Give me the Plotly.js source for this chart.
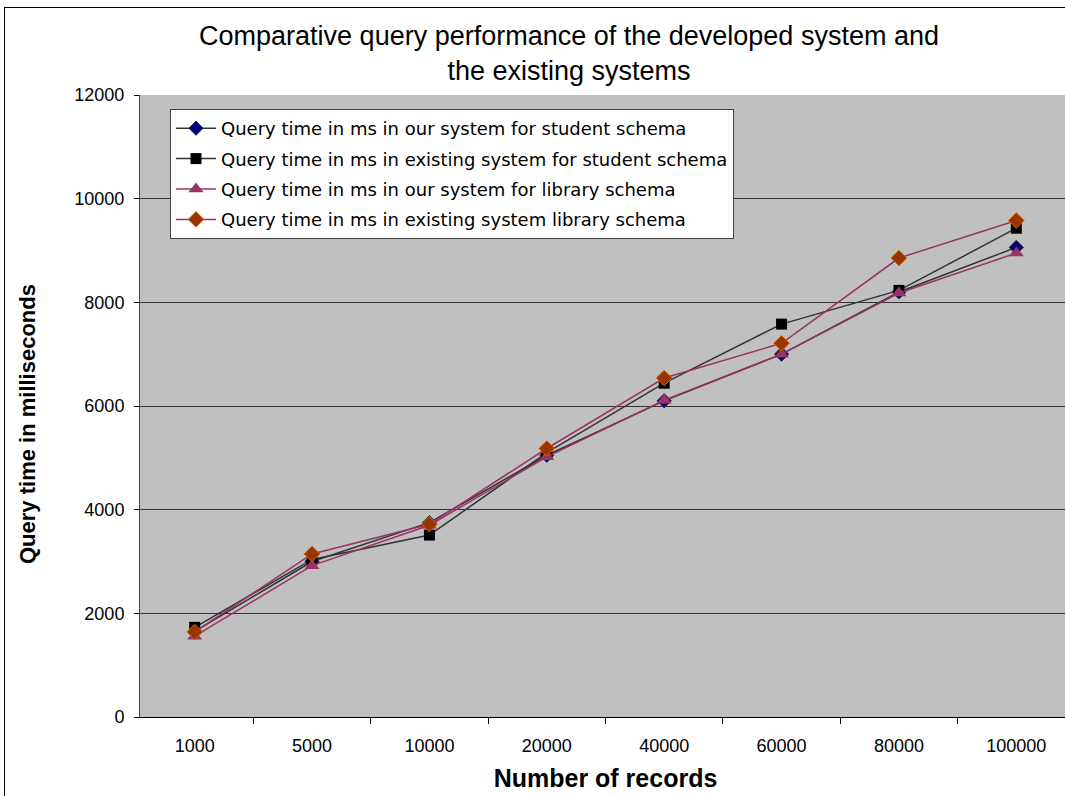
<!DOCTYPE html>
<html>
<head>
<meta charset="utf-8">
<script src="https://cdn.plot.ly/plotly-3.0.1.min.js"></script>
<style>
html,body{margin:0;padding:0;overflow:hidden;background:#fff;width:1065px;height:796px;}
#chart{position:absolute;left:0;top:0;width:1080px;height:796px;}
#frame{position:absolute;left:4px;top:7px;width:1100px;height:820px;border-left:1px solid #000;border-top:1px solid #000;pointer-events:none;}
</style>
</head>
<body>
<div id="chart"></div>
<div id="frame"></div>
<script>
const categories = ["1000","5000","10000","20000","40000","60000","80000","100000"];
const ourStudent = [1650, 3000, 3750, 5050, 6100, 7000, 8200, 9060];
const existingStudent = [1730, 3040, 3510, 5100, 6440, 7580, 8230, 9430];
const ourLibrary = [1560, 2920, 3700, 5020, 6110, 7000, 8180, 8950];
const existingLibrary = [1640, 3145, 3720, 5180, 6540, 7210, 8855, 9580];
const seriesNames = [
  "Query time in ms in our system for student schema",
  "Query time in ms in existing system for student schema",
  "Query time in ms in our system for library schema",
  "Query time in ms in existing system library schema"
];

const traces = [
  {x: categories, y: ourStudent, name: seriesNames[0], legendgroup: "a", type: "scatter", mode: "lines+markers",
   line: {color: "#333333", width: 1.5},
   marker: {symbol: "diamond", size: 11, color: "#000080", line: {color: "#333333", width: 1}}},
  {x: categories, y: existingStudent, name: seriesNames[1], legendgroup: "b", type: "scatter", mode: "lines+markers",
   line: {color: "#333333", width: 1.5},
   marker: {symbol: "square", size: 11, color: "#000000", line: {color: "#000000", width: 0}}},
  {x: categories, y: ourLibrary, name: seriesNames[2], legendgroup: "c", type: "scatter", mode: "lines+markers",
   line: {color: "#993366", width: 1.5},
   marker: {symbol: "triangle-up", size: 13, color: "#993366", line: {color: "#993366", width: 0}}},
  {x: categories, y: existingLibrary, name: seriesNames[3], legendgroup: "d", type: "scatter", mode: "lines+markers",
   line: {color: "#993366", width: 1.5},
   marker: {symbol: "diamond", size: 12, color: "#993300", line: {color: "#CC6600", width: 1}}}
];

const font = "Liberation Sans, Arial, sans-serif";
const layout = {
  width: 1080, height: 796,
  margin: {l: 140, r: 9, t: 95, b: 79},
  paper_bgcolor: "#ffffff",
  plot_bgcolor: "#C0C0C0",
  font: {family: font, color: "#000"},
  title: {
    text: "Comparative query performance of the developed system and<br>the existing systems",
    font: {family: font, size: 27, color: "#000"},
    x: 569/1080, xanchor: "center", xref: "container",
    y: 1 - 45/796, yanchor: "top", yref: "container"
  },
  xaxis: {
    type: "category",
    tickson: "boundaries",
    ticks: "outside", ticklen: 6, tickcolor: "#000", tickwidth: 1,
    showline: true, linecolor: "#000", linewidth: 1,
    showgrid: false,
    ticklabelstandoff: 12,
    tickfont: {family: font, size: 18, color: "#000"},
    title: {text: "<b>Number of records</b>", font: {family: font, size: 25, color: "#000"}, standoff: 14},
    fixedrange: true
  },
  yaxis: {
    range: [0, 12000],
    tickvals: [0, 2000, 4000, 6000, 8000, 10000, 12000],
    ticktext: ["0", "2000", "4000", "6000", "8000", "10000", "12000"],
    ticks: "outside", ticklen: 5, tickcolor: "#000", tickwidth: 1,
    showline: true, linecolor: "#444", linewidth: 1,
    showgrid: true, gridcolor: "#333333", gridwidth: 1,
    zeroline: false,
    ticklabelstandoff: 6,
    tickfont: {family: font, size: 18, color: "#000"},
    fixedrange: true
  },
  annotations: [
    {text: "<b>Query time in milliseconds</b>", textangle: -90, showarrow: false,
     xref: "paper", yref: "paper", x: (28-140)/931, y: (717-424)/622,
     xanchor: "center", yanchor: "middle",
     font: {family: font, size: 22, color: "#000"}}
  ],
  showlegend: true,
  legend: {
    x: (170-140)/931, xanchor: "left",
    y: (717-109)/622, yanchor: "top",
    bgcolor: "#ffffff", bordercolor: "#444", borderwidth: 1,
    font: {family: "DejaVu Sans, sans-serif", size: 18, color: "#000"},
    tracegroupgap: 4,
    itemwidth: 40
  }
};

Plotly.newPlot("chart", traces, layout, {displayModeBar: false, staticPlot: true});
</script>
</body>
</html>
